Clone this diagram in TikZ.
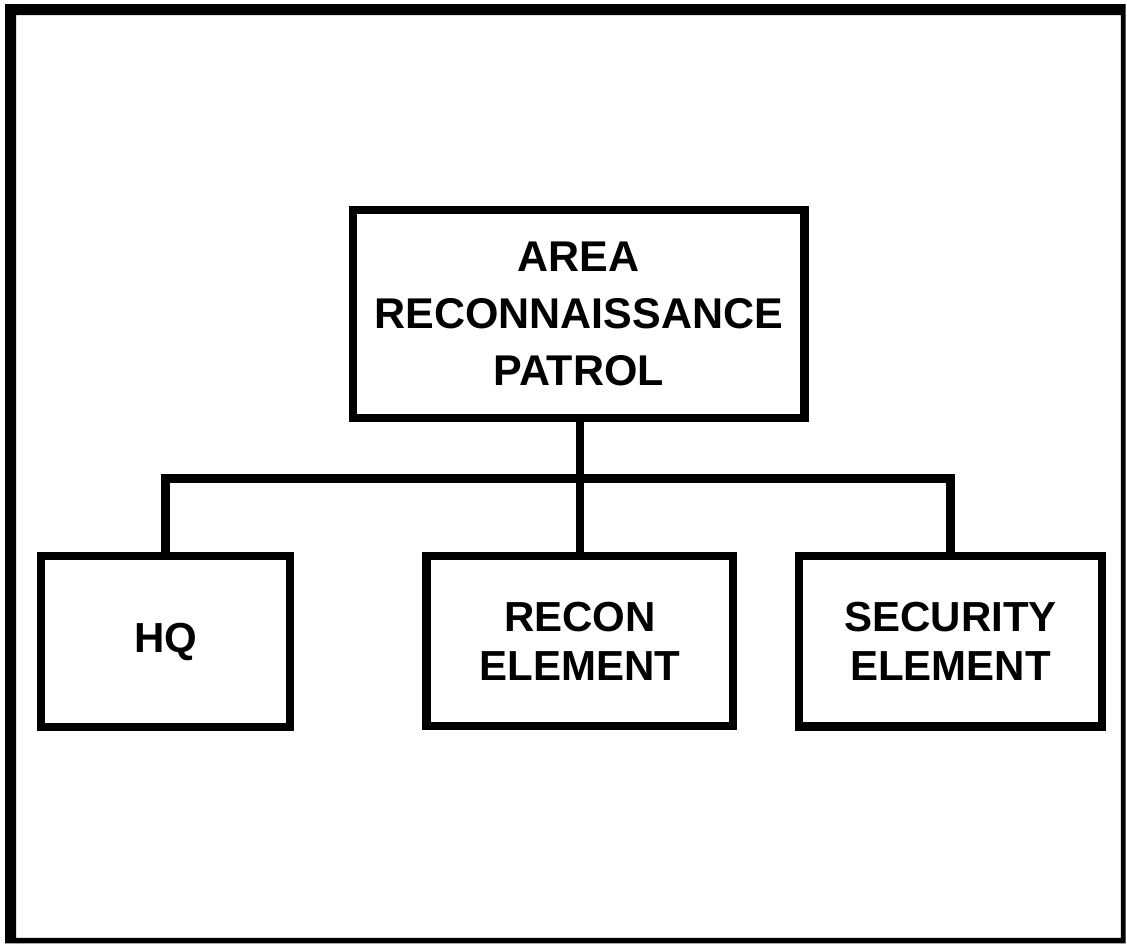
\documentclass[tikz,border=0pt]{standalone}
\usepackage{fontspec}
\setmainfont{Liberation Sans}
\begin{document}
\begin{tikzpicture}[x=1pt,y=-1pt,
  box/.style={draw=black, line width=8.5pt, fill=white, align=center, inner sep=0pt},
  bigtxt/.style={font=\fontsize{43}{57}\selectfont\bfseries},
  smalltxt/.style={font=\fontsize{42}{49}\selectfont\bfseries},
  conn/.style={draw=black, line width=8.5pt, line join=miter}]
\useasboundingbox (0,0) rectangle (1127,945);
\fill[white] (0,0) rectangle (1127,945);
% outer frame (thick top/left, thin right/bottom)
\fill[black, even odd rule] (5,4) rectangle (1125.5,943.3) (16,15) rectangle (1120.8,937.8);
% boxes
\node[box, bigtxt, minimum width=451.5pt, minimum height=208pt] (top) at (578.75,314)
  {AREA\\RECONNAISSANCE\\PATROL};
\node[box, smalltxt, minimum width=249pt, minimum height=171pt] (hq) at (165.5,641.5) {HQ};
\node[box, smalltxt, minimum width=306.3pt, minimum height=170pt] (rec) at (579.85,641) {RECON\\ELEMENT};
\node[box, smalltxt, minimum width=303pt, minimum height=170.5pt] (sec) at (950.5,641.25) {SECURITY\\ELEMENT};
% connectors
\coordinate (bus) at (0,478.5);
\draw[conn] (rec.north |- top.south) -- (rec.north);
\draw[conn] (hq.north) -- (hq.north |- bus) -- (sec.north |- bus) -- (sec.north);
\end{tikzpicture}
\end{document}
